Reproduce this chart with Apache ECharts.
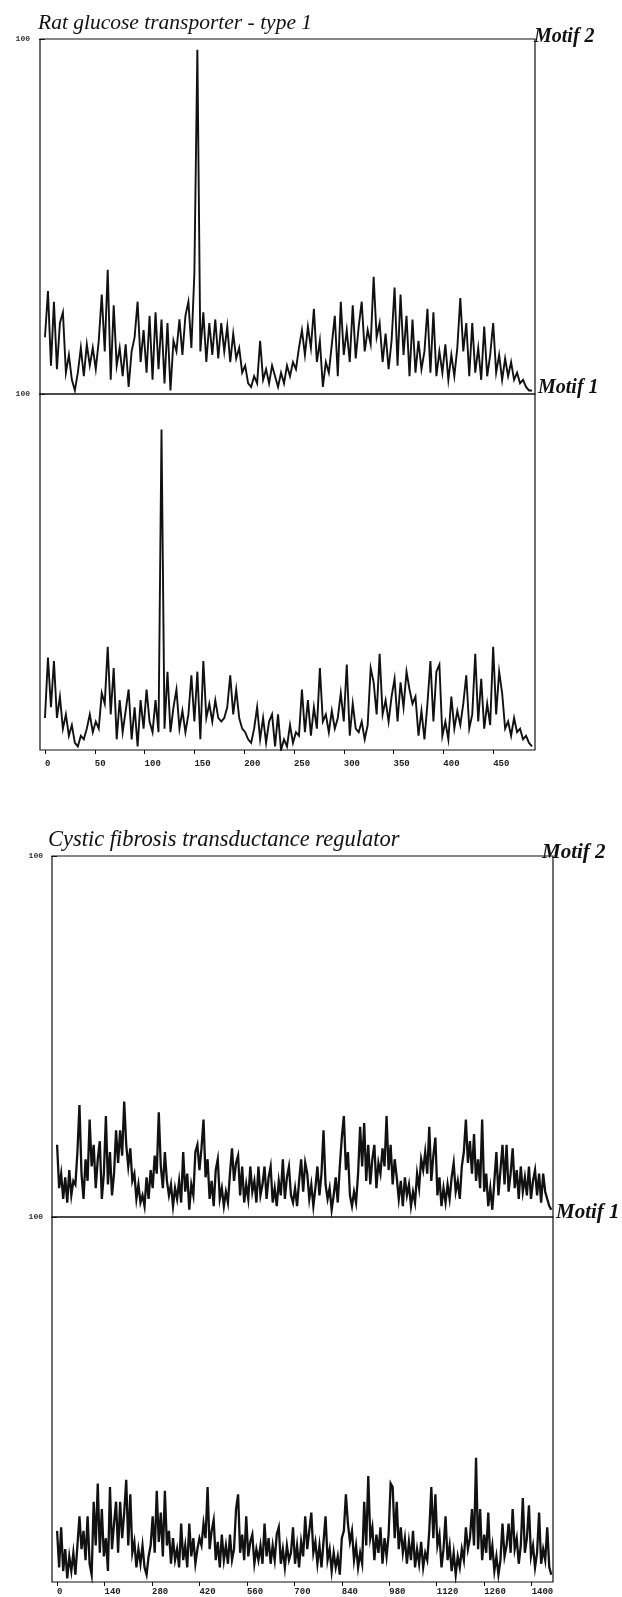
<!DOCTYPE html>
<html>
<head>
<meta charset="utf-8">
<script src="https://cdn.jsdelivr.net/npm/echarts@6/dist/echarts.min.js"></script>
<style>
html,body{margin:0;padding:0;background:#fff;}
#chart{width:622px;height:1597px;}
</style>
</head>
<body>
<div id="chart"></div>
<script>
// ---- Data ----
const glutStep = 3;   // residue spacing of the sampled GLUT1 values
const glutTicks = [0, 50, 100, 150, 200, 250, 300, 350, 400, 450];
const glutMotif2 = [16,29,8,26,7,20,23,6,11,4,1,6,13,5,14,8,13,7,15,28,12,35,4,25,8,13,5,14,2,12,16,26,9,18,6,22,4,23,7,21,3,20,1,15,12,21,11,22,26,13,34,97,12,23,9,20,11,21,10,20,12,19,9,17,10,13,6,8,3,2,5,3,15,4,7,3,8,5,2,6,3,8,5,9,7,13,18,11,19,13,24,9,15,2,9,6,14,22,5,26,11,18,9,25,10,19,26,12,18,14,33,16,20,9,17,7,15,30,8,28,11,22,5,21,6,15,7,12,24,6,23,5,12,6,14,4,11,5,13,27,12,20,5,20,6,13,4,19,5,11,20,6,11,4,10,5,9,4,6,3,4,2,1,1];
const glutMotif1 = [9,26,12,25,9,15,6,10,4,7,2,1,4,3,6,10,5,8,6,16,13,29,10,23,3,14,5,11,17,3,12,1,14,6,17,8,5,14,5,90,6,22,5,12,17,6,11,5,10,21,8,22,3,25,9,13,8,14,9,8,9,12,21,10,17,9,6,5,3,2,6,12,3,9,2,8,10,1,10,0,3,1,7,2,5,4,17,5,14,4,12,6,23,8,10,5,11,6,9,16,8,24,4,13,6,5,8,3,7,23,19,10,27,10,14,8,15,20,8,19,12,22,17,13,15,4,11,3,13,25,8,22,24,4,8,3,15,6,11,7,13,21,6,10,27,8,20,6,13,7,29,10,22,16,6,8,4,9,5,6,3,4,2,1];

const cftrStep = 6;   // residue spacing of the sampled CFTR values
const cftrTicks = [0, 140, 280, 420, 560, 700, 840, 980, 1120, 1260, 1400];
const cftrMotif2 = [20,8,12,5,11,4,13,6,10,9,18,31,12,5,16,10,27,14,20,8,16,21,5,12,28,9,18,6,12,24,15,24,17,32,20,14,19,10,12,5,9,4,6,3,11,5,13,8,17,12,29,14,8,18,10,6,9,3,8,5,10,4,18,7,12,2,9,6,18,20,13,19,27,11,16,5,10,3,13,16,5,8,3,7,4,12,19,10,15,17,6,14,4,9,5,14,7,10,4,14,6,9,14,5,11,14,4,8,3,10,6,16,5,11,14,6,4,8,3,10,16,7,15,12,5,9,3,8,14,6,12,24,9,5,8,2,6,11,4,14,22,28,13,18,6,3,7,4,12,25,14,26,10,20,9,16,20,8,15,12,19,14,28,13,20,9,16,11,5,10,3,11,6,9,3,7,4,12,8,16,13,18,12,25,10,17,22,6,11,3,8,4,9,5,11,15,7,10,5,14,18,27,15,21,12,23,10,16,8,27,7,12,3,8,2,10,18,6,13,20,9,20,7,12,19,8,13,5,14,7,11,6,14,5,10,13,6,12,4,12,7,5,3,2];
const cftrMotif1 = [14,4,15,3,9,1,7,3,8,2,10,18,9,14,6,18,5,2,22,10,27,8,20,7,12,3,26,9,16,22,8,22,12,19,28,10,24,8,11,4,9,5,10,4,2,7,10,18,8,25,11,19,7,25,10,14,5,12,6,9,4,16,6,10,4,16,7,12,5,9,12,10,16,12,26,9,14,17,6,11,4,13,6,10,5,13,6,9,20,24,8,13,6,18,7,11,13,5,9,6,10,5,16,7,12,5,10,6,13,15,5,9,4,10,6,8,15,5,10,4,11,7,18,9,14,19,8,11,5,10,4,11,18,6,9,3,8,4,7,2,12,14,24,16,11,14,6,10,4,8,5,22,10,29,12,15,6,13,8,15,5,12,7,13,27,26,12,22,9,15,8,12,5,11,6,14,4,9,5,11,4,8,6,14,26,12,24,10,13,4,9,18,6,10,3,8,2,7,4,9,6,15,9,12,20,10,34,9,20,6,13,8,19,6,10,3,7,2,6,16,7,10,16,8,20,9,12,5,10,23,8,12,21,7,10,4,8,19,5,9,6,15,4,2];

// ---- Build chart ----
function pairs(vals, step){ return vals.map((v,i)=>[i*step, v]); }

const serif = "'Liberation Serif','DejaVu Serif',serif";
const mono = "'Liberation Mono','DejaVu Sans Mono',monospace";
const ink = '#111';

const grids = [
  {left:40, top:39, width:495, height:355},
  {left:40, top:394, width:495, height:356},
  {left:52, top:856, width:501, height:361},
  {left:52, top:1217, width:501, height:365}
].map(g => Object.assign(g, {show:true, borderColor:ink, borderWidth:1.2, backgroundColor:'transparent', containLabel:false}));

function xAxisFor(gi, min, max, ticks, showLabels, margin){
  return {
    type:'value', gridIndex:gi, min:min, max:max,
    axisLine:{show:false}, splitLine:{show:false},
    axisTick:{show:showLabels, length:4, customValues:ticks, lineStyle:{color:ink}},
    axisLabel:{show:showLabels, customValues:ticks, margin:margin, align:'left',
      formatter:(v)=>String(v),
      fontFamily:mono, fontSize:9, fontWeight:'bold', color:'#222'}
  };
}
function yAxisFor(gi, margin){
  return {
    type:'value', gridIndex:gi, min:0, max:100,
    axisLine:{show:false}, splitLine:{show:false},
    axisTick:{show:true, length:6, customValues:[100], lineStyle:{color:ink}},
    axisLabel:{show:true, customValues:[100], margin:margin, formatter:(v)=>String(v),
      fontFamily:mono, fontSize:8, fontWeight:'bold', color:'#333'}
  };
}
function lineSeries(idx, data, w){
  return {type:'line', xAxisIndex:idx, yAxisIndex:idx, data:data, showSymbol:false, symbol:'none',
    lineStyle:{color:ink, width:w, join:'miter'}, silent:true};
}
function label(text, left, top, size, bold){
  return {text:text, left:left, top:top, padding:0,
    textStyle:{fontFamily:serif, fontStyle:'italic', fontWeight:bold?'bold':'normal', fontSize:size, color:'#111'}};
}

const option = {
  animation:false,
  backgroundColor:'#fff',
  title:[
    label('Rat glucose transporter - type 1', 38, 12, 21.5, false),
    label('Motif 2', 534, 27, 20, true),
    label('Motif 1', 538, 378, 20, true),
    label('Cystic fibrosis transductance regulator', 48, 829, 22.5, false),
    label('Motif 2', 542, 842, 21, true),
    label('Motif 1', 556, 1202, 21, true)
  ],
  grid:grids,
  xAxis:[
    xAxisFor(0, -5, 492, glutTicks, false, 8),
    xAxisFor(1, -5, 492, glutTicks, true, 9),
    xAxisFor(2, -15, 1463, cftrTicks, false, 8),
    xAxisFor(3, -15, 1463, cftrTicks, true, 5)
  ],
  yAxis:[yAxisFor(0,10), yAxisFor(1,10), yAxisFor(2,9), yAxisFor(3,9)],
  series:[
    lineSeries(0, pairs(glutMotif2, glutStep), 1.9),
    lineSeries(1, pairs(glutMotif1, glutStep), 1.9),
    lineSeries(2, pairs(cftrMotif2, cftrStep), 2.3),
    lineSeries(3, pairs(cftrMotif1, cftrStep), 2.3)
  ]
};
const chart = echarts.init(document.getElementById('chart'), null, {renderer:'canvas'});
chart.setOption(option);
</script>
</body>
</html>
